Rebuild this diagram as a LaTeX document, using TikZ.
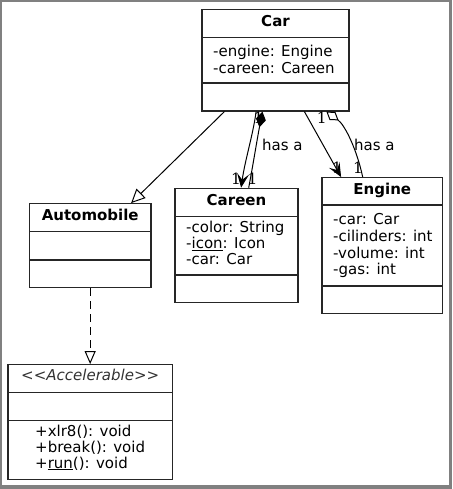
\documentclass[tikz,border=0pt]{standalone}
\usepackage{fontspec}
\newfontfamily\uml{DejaVu Sans}
\newfontfamily\umlserif{DejaVu Serif}
\usetikzlibrary{arrows.meta}
\begin{document}
\begin{tikzpicture}[x=1pt,y=-1pt,
  frame/.style={fill=black!50},
  box/.style={draw=black!85, line width=1.2pt, inner sep=0pt, fill=white},
  sep/.style={draw=black!85, line width=1.2pt},
  ttl/.style={font=\uml\bfseries\fontsize{15}{18}\selectfont, anchor=base, inner sep=0pt},
  sttl/.style={font=\uml\itshape\fontsize{15}{18}\selectfont, anchor=base, inner sep=0pt, text=black!80},
  attr/.style={font=\uml\fontsize{15}{18}\selectfont, anchor=base west, inner sep=0pt},
  mult/.style={font=\umlserif\fontsize{15.5}{18}\selectfont, anchor=base, inner sep=0pt},
  lbl/.style={font=\uml\fontsize{15}{18}\selectfont, anchor=base west, inner sep=0pt},
  conn/.style={line width=1pt, draw=black},
  gen/.style={conn, -{Triangle[open, length=14pt, width=13pt, fill=white]}},
  real/.style={conn, dash pattern=on 8pt off 5pt, -{Triangle[open, length=13pt, width=11pt, fill=white]}},
  nav/.style={conn, -{Stealth[length=14pt, width=12pt, inset=6pt]}},
  comp/.style={conn, -{Diamond[length=16pt, width=10pt]}},
  aggr/.style={conn, -{Diamond[open, length=15pt, width=10pt, fill=white]}}]
\useasboundingbox (0,0) rectangle (452,489);
\fill[frame] (0,0) rectangle (452,489);
\fill[white] (2,2) rectangle (448.7,485);

% boxes
\node[box, minimum width=147pt, minimum height=101.5pt] (car) at (275.5,60.25) {};
\node[box, minimum width=121.7pt, minimum height=84pt] (auto) at (90.15,245.7) {};
\node[box, minimum width=123pt, minimum height=114.4pt] (careen) at (236.5,245.5) {};
\node[box, minimum width=120.7pt, minimum height=135.6pt] (engine) at (382.35,245.5) {};
\node[box, minimum width=164.3pt, minimum height=114.6pt] (accel) at (90.15,422) {};

% compartments
\draw[sep] (202,37.7) -- (349,37.7);
\draw[sep] (202,83) -- (349,83);
\draw[sep] (29.3,231.7) -- (151,231.7);
\draw[sep] (29.3,260) -- (151,260);
\draw[sep] (175,216.7) -- (298,216.7);
\draw[sep] (175,275) -- (298,275);
\draw[sep] (322,205) -- (442.7,205);
\draw[sep] (322,286) -- (442.7,286);
\draw[sep] (8,392.3) -- (172.3,392.3);
\draw[sep] (8,420.3) -- (172.3,420.3);

% titles
\node[ttl] (carT) at (275.5,27) {Car};
\node[ttl] (autoT) at (90.2,220.7) {Automobile};
\node[ttl] (careenT) at (236.5,205.7) {Careen};
\node[ttl] (engineT) at (382.3,194.7) {Engine};
\node[sttl] (accelT) at (90.2,380.7) {<<Accelerable>>};

% attributes
\node[attr] (ca1) at (213,56.7) {-engine: Engine};
\node[attr] (ca2) at (213,73.3) {-careen: Careen};
\node[attr] (cr1) at (186,232.7) {-color: String};
\node[attr] (cr2) at (186,248.3) {-\underline{icon}: Icon};
\node[attr] (cr3) at (186,264.3) {-car: Car};
\node[attr] (en1) at (333,224.7) {-car: Car};
\node[attr] (en2) at (333,241.3) {-cilinders: int};
\node[attr] (en3) at (333,258) {-volume: int};
\node[attr] (en4) at (333,274.7) {-gas: int};
\node[attr] (ac1) at (35,436.7) {+xlr8(): void};
\node[attr] (ac2) at (35,452.3) {+break(): void};
\node[attr] (ac3) at (35,468) {+\underline{run}(): void};

% multiplicities and labels
\node[mult] (m1) at (236,184) {1};
\node[mult] (m2) at (252.5,184) {1};
\node[mult] (m3) at (258.5,123.5) {1};
\node[mult] (m4) at (321.7,123.3) {1};
\node[mult] (m5) at (337,173.3) {1};
\node[mult] (m6) at (358,173.3) {1};
\node[lbl] (h1) at (262,150) {has a};
\node[lbl] (h2) at (354,150) {has a};

% connectors
\draw[gen] ([xshift=23pt]car.south west) -- ([xshift=102.4pt]auto.north west);
\draw[real] (auto.south) -- (accel.north);
\draw[nav] ([xshift=54.7pt]car.south west) .. controls (253,135) and (245,160) .. ([xshift=66.7pt]careen.north west);
\draw[comp] ([xshift=74.3pt]careen.north west) .. controls (253,165) and (257,140) .. ([xshift=61pt]car.south west);
\draw[nav] ([xshift=103pt]car.south west) -- ([xshift=19.7pt]engine.north west);
\draw[aggr] ([xshift=41.3pt]engine.north west) .. controls (357,150) and (345,125) .. ([xshift=125pt]car.south west);
\end{tikzpicture}
\end{document}
